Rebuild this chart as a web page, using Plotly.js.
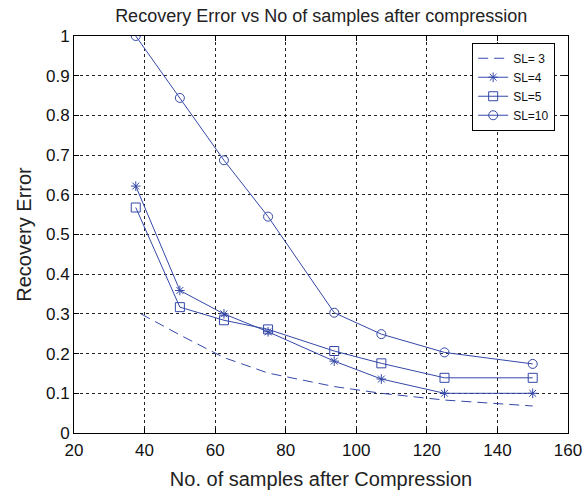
<!DOCTYPE html>
<html>
<head>
<meta charset="utf-8">
<script src="https://cdn.plot.ly/plotly-3.0.1.min.js"></script>
<style>html,body{margin:0;padding:0;background:#fff;}#chart{width:584px;height:496px;}</style>
</head>
<body>
<div id="chart"></div>
<script>
var xSamples = [37.5, 50, 62.5, 75, 93.75, 107.1, 125, 150];
var xSL3 = [39, 50, 62.5, 75, 93.75, 107.1, 125, 150];
var sl3 = [0.300, 0.247, 0.190, 0.151, 0.117, 0.100, 0.083, 0.068];
var sl4 = [0.622, 0.359, 0.300, 0.255, 0.181, 0.136, 0.100, 0.100];
var sl5 = [0.568, 0.317, 0.284, 0.261, 0.2065, 0.1755, 0.139, 0.139];
var sl10 = [1.000, 0.844, 0.687, 0.545, 0.303, 0.249, 0.203, 0.174];
var seriesNames = ['SL= 3', 'SL=4', 'SL=5', 'SL=10'];
var xTicks = [20, 40, 60, 80, 100, 120, 140, 160];
var yTicks = [0, 0.1, 0.2, 0.3, 0.4, 0.5, 0.6, 0.7, 0.8, 0.9, 1];
var yTickText = ['0', '0.1', '0.2', '0.3', '0.4', '0.5', '0.6', '0.7', '0.8', '0.9', '1'];

var blue = 'rgb(52,72,168)';
var font = 'Liberation Sans, Arial, Helvetica, sans-serif';

var traces = [
  {x: xSL3, y: sl3, name: seriesNames[0], mode: 'lines', line: {color: blue, width: 1, dash: '10px,6px'}},
  {x: xSamples, y: sl4, name: seriesNames[1], mode: 'lines+markers', line: {color: blue, width: 1},
   marker: {symbol: 'asterisk-open', size: 8, color: blue, line: {color: blue, width: 1}}},
  {x: xSamples, y: sl5, name: seriesNames[2], mode: 'lines+markers', line: {color: blue, width: 1},
   marker: {symbol: 'square-open', size: 9, color: blue, line: {color: blue, width: 1}}},
  {x: xSamples, y: sl10, name: seriesNames[3], mode: 'lines+markers', line: {color: blue, width: 1},
   marker: {symbol: 'circle-open', size: 9, color: blue, line: {color: blue, width: 1}}}
];

var axisCommon = {
  showline: true, linecolor: '#000', linewidth: 1, mirror: 'ticks',
  ticks: 'inside', ticklen: 5, tickcolor: '#000',
  showgrid: true, gridcolor: '#222', gridwidth: 1, griddash: '3px,3px',
  zeroline: false, tickfont: {family: font, size: 17, color: '#111'}
};

var layout = {
  width: 584, height: 496,
  margin: {l: 74, r: 16, t: 36, b: 63},
  paper_bgcolor: '#fff', plot_bgcolor: '#fff',
  title: {text: 'Recovery Error vs No of samples after compression', x: 0.55, xanchor: 'center', y: 0.968, yanchor: 'middle',
          font: {family: font, size: 18, color: '#222'}},
  xaxis: Object.assign({}, axisCommon, {
    range: [20, 160], tickmode: 'array', tickvals: xTicks, ticktext: xTicks.map(String),
    ticklabelstandoff: 2,
    title: {text: 'No. of samples after Compression', font: {family: font, size: 20, color: '#222'}, standoff: 12}
  }),
  yaxis: Object.assign({}, axisCommon, {
    range: [0, 1], tickmode: 'array', tickvals: yTicks, ticktext: yTickText,
    title: {text: 'Recovery Error', font: {family: font, size: 20, color: '#222'}, standoff: 8}
  }),
  showlegend: true,
  legend: {x: 0.806, y: 0.983, xanchor: 'left', yanchor: 'top', bgcolor: '#fff', bordercolor: '#000', borderwidth: 1,
           font: {family: font, size: 12, color: '#111'}, itemwidth: 30, tracegroupgap: 0}
};

Plotly.newPlot('chart', traces, layout, {displayModeBar: false, staticPlot: true});
</script>
</body>
</html>
